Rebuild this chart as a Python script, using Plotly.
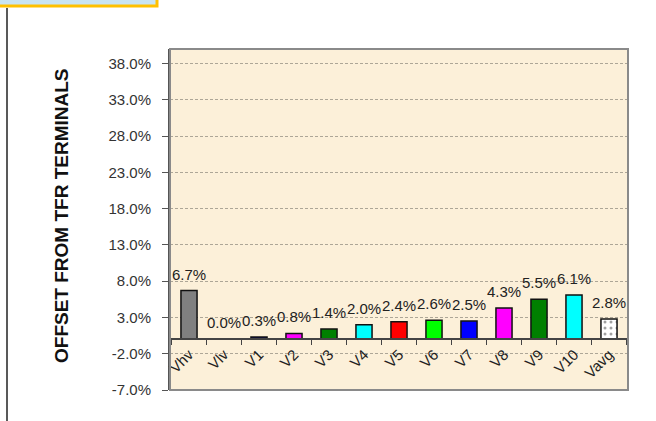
import plotly.graph_objects as go

# ---- data ----
categories = ["Vhv", "Vlv", "V1", "V2", "V3", "V4", "V5", "V6", "V7", "V8", "V9", "V10", "Vavg"]
offsets = [6.7, 0.0, 0.3, 0.8, 1.4, 2.0, 2.4, 2.6, 2.5, 4.3, 5.5, 6.1, 2.8]
value_labels = ["6.7%", "0.0%", "0.3%", "0.8%", "1.4%", "2.0%", "2.4%", "2.6%", "2.5%",
                "4.3%", "5.5%", "6.1%", "2.8%"]
bar_colors = ["#808080", "#808080", "#000080", "#FF00FF", "#008000", "#00FFFF", "#FF0000",
              "#00FF00", "#0000FF", "#FF00FF", "#008000", "#00FFFF", "#FFFFFF"]
bar_patterns = ["", "", "", "", "", "", "", "", "", "", "", "", "."]
y_tickvals = [-7, -2, 3, 8, 13, 18, 23, 28, 33, 38]
y_ticklabels = ["-7.0%", "-2.0%", "3.0%", "8.0%", "13.0%", "18.0%", "23.0%", "28.0%",
                "33.0%", "38.0%"]
y_title = "OFFSET FROM TFR TERMINALS"

W, H = 656, 421
ML, MR, MT, MB = 170, 28, 49, 31
PW, PH = W - ML - MR, H - MT - MB
Y_MIN, Y_MAX = -7, 40
FONT = "Liberation Sans, Arial"


def px_x(px):
    return (px - ML) / PW


def px_y(py):
    return (H - MB - py) / PH


fig = go.Figure()
fig.add_trace(go.Bar(
    x=categories,
    y=offsets,
    width=0.46,
    marker=dict(color=bar_colors,
                line=dict(color="#111111", width=1.5),
                pattern=dict(shape=bar_patterns, fgcolor="#222222", bgcolor="#FFFFFF",
                             size=6, solidity=0.2)),
    hoverinfo="skip",
))

# value labels above bars
for c, v, t in zip(categories, offsets, value_labels):
    fig.add_annotation(x=c, y=v, text=t, showarrow=False, xanchor="center",
                       yanchor="bottom", yshift=6,
                       font=dict(family=FONT, size=15, color="#222222"))

fig.update_layout(
    width=W, height=H,
    margin=dict(l=ML, r=MR, t=MT, b=MB),
    paper_bgcolor="#FFFFFF",
    plot_bgcolor="#FCF0D9",
    showlegend=False,
    font=dict(family=FONT, size=15, color="#333333"),
    xaxis=dict(
        anchor="free",
        position=(0 - Y_MIN) / (Y_MAX - Y_MIN),
        showline=True, linecolor="#444444", linewidth=1.5,
        ticks="outside", tickson="boundaries", ticklen=5, tickcolor="#444444",
        tickangle=-45,
        tickfont=dict(family=FONT, size=15, color="#222222"),
        showgrid=False,
    ),
    yaxis=dict(
        range=[Y_MIN, Y_MAX],
        tickvals=y_tickvals,
        ticktext=y_ticklabels,
        ticks="outside", ticklen=6, tickcolor="#555555",
        ticklabelstandoff=8,
        tickfont=dict(family=FONT, size=15, color="#333333"),
        showline=True, linecolor="#555555", linewidth=2,
        showgrid=True, gridcolor="#ADA697", griddash="3px,2px", gridwidth=1,
        zeroline=False,
    ),
)

# plot frame (top/right/bottom)
fig.add_shape(type="rect", xref="x domain", yref="y domain", x0=0, x1=1, y0=0, y1=1,
              line=dict(color="#8A8A8A", width=2), layer="above")

# y-axis title
fig.add_annotation(text="<b>" + y_title + "</b>", xref="paper", yref="paper",
                   x=px_x(61), y=px_y(216), textangle=-90, showarrow=False,
                   font=dict(family="Liberation Sans, Arial", size=19, color="#111111"),
                   xanchor="center", yanchor="middle")

# slide decorations: yellow-framed box and vertical line
fig.add_shape(type="rect", xref="paper", yref="paper",
              x0=px_x(-3), x1=px_x(157), y0=px_y(6), y1=px_y(-10),
              line=dict(color="#FFC000", width=3), fillcolor="#C9E4F2")
fig.add_shape(type="line", xref="paper", yref="paper",
              x0=px_x(7), x1=px_x(7), y0=px_y(8), y1=px_y(425),
              line=dict(color="#222222", width=1.5))

fig.write_html("out.html")
